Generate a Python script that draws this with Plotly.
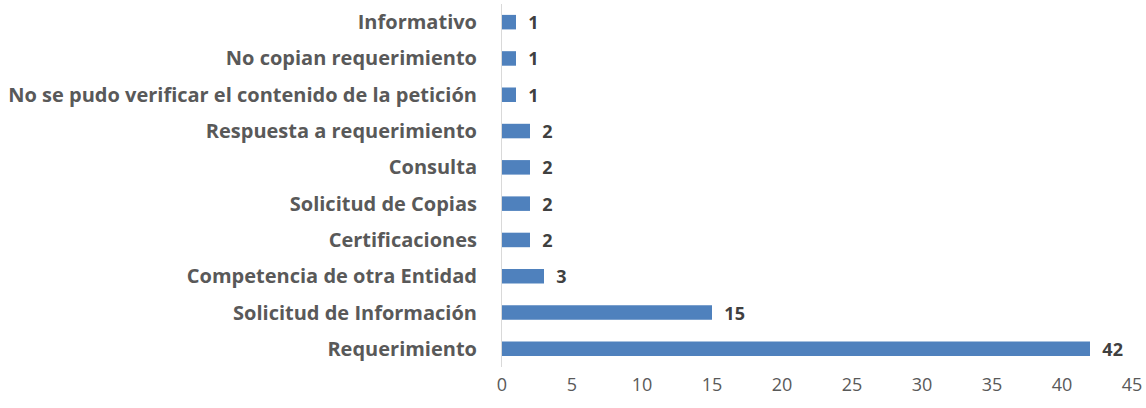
import plotly.graph_objects as go

categories = [
    "Informativo",
    "No copian requerimiento",
    "No se pudo verificar el contenido de la petición",
    "Respuesta a requerimiento",
    "Consulta",
    "Solicitud de Copias",
    "Certificaciones",
    "Competencia de otra Entidad",
    "Solicitud de Información",
    "Requerimiento",
]
values = [1, 1, 1, 2, 2, 2, 2, 3, 15, 42]
x_ticks = [0, 5, 10, 15, 20, 25, 30, 35, 40, 45]

FONT = "Open Sans"

fig = go.Figure(go.Bar(
    x=values,
    y=categories,
    orientation="h",
    marker=dict(color="#4F81BD", line=dict(width=0)),
    width=0.4,
    text=values,
    texttemplate="  %{text}",
    textposition="outside",
    constraintext="none",
    cliponaxis=False,
    textfont=dict(family=FONT, size=18, color="#404040", weight="bold"),
))

fig.update_layout(
    width=1146,
    height=408,
    margin=dict(l=502, r=14, t=4, b=41),
    paper_bgcolor="white",
    plot_bgcolor="white",
    showlegend=False,
    font=dict(family=FONT, color="#595959"),
)
fig.update_xaxes(
    range=[0, 45],
    tickvals=x_ticks,
    showgrid=False,
    zeroline=False,
    showline=False,
    ticks="",
    automargin=False,
    tickfont=dict(family=FONT, size=18, color="#595959"),
    ticklabelstandoff=5,
)
fig.update_yaxes(
    autorange="reversed",
    showgrid=False,
    zeroline=False,
    showline=True,
    linecolor="#D9D9D9",
    linewidth=1,
    ticks="",
    automargin=False,
    ticklabelstandoff=20,
    tickfont=dict(family=FONT, size=20, color="#595959", weight="bold"),
)

fig.write_html(
    "out.html",
    config={"displayModeBar": False},
    post_script="document.body.style.margin='0';document.body.style.overflow='hidden';",
)
